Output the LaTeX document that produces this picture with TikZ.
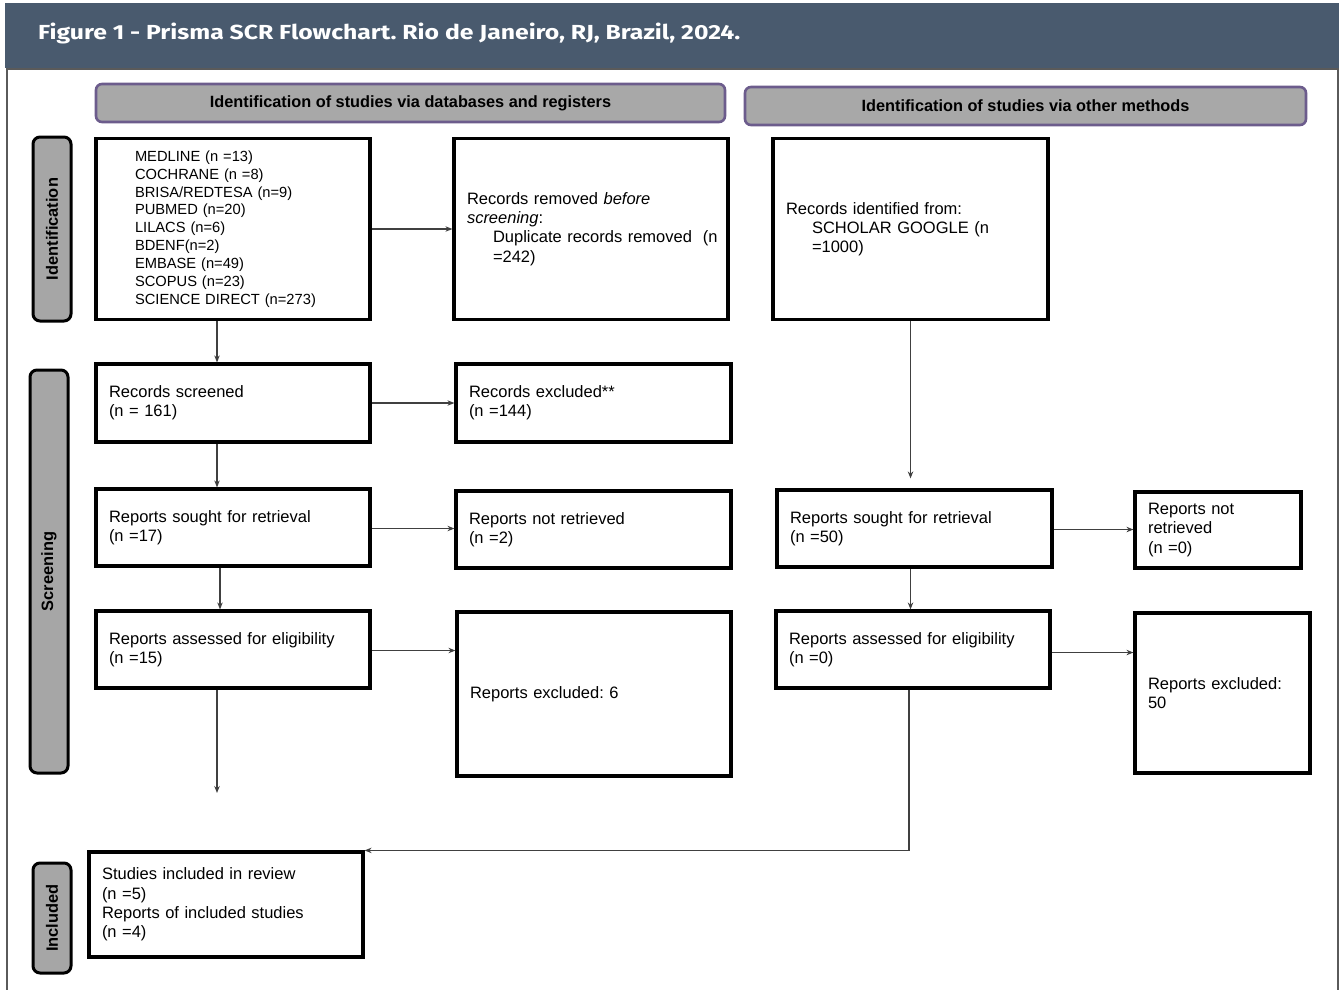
\documentclass[tikz,border=0pt]{standalone}
\usepackage{graphicx}
\usepackage{fontspec}
\setmainfont{Liberation Sans}
\newfontfamily\titlefont{Fira Sans}
\usepackage{tikz}
\usetikzlibrary{positioning}
\usetikzlibrary{arrows.meta}
\definecolor{headblue}{RGB}{73,90,110}
\definecolor{phasegray}{RGB}{168,168,168}
\definecolor{phaseline}{RGB}{108,92,140}
\definecolor{stagegray}{RGB}{166,166,166}
\definecolor{framegray}{RGB}{90,90,90}
\frenchspacing
\hyphenpenalty=10000
\exhyphenpenalty=10000

\begin{document}
\begin{tikzpicture}[
        x = 1pt, y = -1pt,
        box/.style = {
            draw,
            line width = 3.2pt,
            inner xsep = 13pt,
            inner ysep = 0pt,
            align = left,
            font = \fontsize{16.5}{19.2}\selectfont
        },
        phase/.style = {
            draw = phaseline,
            fill = phasegray,
            line width = 2.6pt,
            rounded corners = 6pt,
            minimum height = 38pt,
            font = \fontsize{16.3}{19}\selectfont\bfseries
        },
        stage/.style = {
            draw,
            fill = stagegray,
            line width = 3pt,
            rounded corners = 7pt,
            rotate = 90,
            minimum height = 38pt,
            font = \fontsize{16.4}{19}\selectfont\bfseries
        },
        link/.style = {
            line width = 1.1pt,
            draw = black!75,
            -{Stealth[length=7pt, width=5.5pt]}
        }
    ]
    \useasboundingbox (0, 0) rectangle (1339, 990);

    % frame and title bar
    \draw[framegray, line width = 1.4pt] (7, 995) -- (7, 69) -- (1338, 69) -- (1338, 995);
    \fill[headblue] (5, 3) rectangle (1339, 68);
    \node[anchor = base west, inner sep = 0pt, text = white] (title) at (38, 40)
        {\resizebox{702pt}{16.5pt}{\titlefont\bfseries Figure 1 - Prisma SCR Flowchart. Rio de Janeiro, RJ, Brazil, 2024.}};

    % headers
    \node[phase, minimum width = 629pt] (dbs) at (410.5, 103) {Identification of studies via databases and registers};
    \node[phase, minimum width = 561pt] (other) at (1025.5, 106) {Identification of studies via other methods};
    \node[stage, minimum width = 184pt] (ident) at (52, 229) {Identification};
    \node[stage, minimum width = 403pt] (screen) at (49, 571.5) {Screening};
    \node[stage, minimum width = 110pt] (incl) at (52, 918) {Included};

    % boxes
    \node[box, inner xsep = 39pt, text width = 196pt, minimum height = 181pt, font = \fontsize{14.7}{17.9}\selectfont] (1) at (233, 229)
        {MEDLINE (n =13)\\ COCHRANE (n =8)\\ BRISA/REDTESA (n=9)\\ PUBMED (n=20)\\ LILACS (n=6)\\ BDENF(n=2)\\ EMBASE (n=49)\\ SCOPUS (n=23)\\ SCIENCE~DIRECT~(n=273)};
    \node[box, text width = 248pt, minimum height = 181pt] (2) at (591, 229)
        {Records removed \textit{before}\\ \textit{screening}:\\ \hspace*{26pt}Duplicate~records~removed~~(n\\ \hspace*{26pt}=242)};
    \node[box, text width = 249pt, minimum height = 181pt] (3) at (910.5, 229)
        {Records identified from:\\ \hspace*{26pt}SCHOLAR~GOOGLE~(n\\ \hspace*{26pt}=1000)};
    \node[box, text width = 248pt, minimum height = 78pt] (4) at (233, 403) {Records screened\\ (n = 161)};
    \node[box, text width = 249pt, minimum height = 78pt] (5) at (593.5, 403) {Records excluded**\\ (n =144)};
    \node[box, text width = 248pt, minimum height = 77pt] (6) at (233, 527.5) {Reports sought for retrieval\\ (n =17)};
    \node[box, text width = 249pt, minimum height = 77pt] (7) at (593.5, 529.5) {Reports not retrieved\\ (n =2)};
    \node[box, text width = 249pt, minimum height = 77pt] (8) at (914.5, 528.5) {Reports sought for retrieval\\ (n =50)};
    \node[box, text width = 140pt, minimum height = 76pt] (9) at (1218, 530) {Reports not\\ retrieved\\ (n =0)};
    \node[box, text width = 248pt, minimum height = 77pt] (10) at (233, 649.5) {Reports assessed for eligibility\\ (n =15)};
    \node[box, text width = 248pt, minimum height = 164pt] (11) at (594, 694) {Reports excluded: 6};
    \node[box, text width = 248pt, minimum height = 77pt] (12) at (913, 649.5) {Reports assessed for eligibility\\ (n =0)};
    \node[box, text width = 149pt, minimum height = 160pt] (13) at (1222.5, 693) {Reports excluded:\\ 50};
    \node[box, text width = 248pt, minimum height = 105pt] (14) at (226, 904.5)
        {Studies included in review\\ (n =5)\\ Reports of included studies\\ (n =4)};
    \coordinate (end) at (217, 793);

    % connectors
    \draw[link] (1) -- (2);
    \draw[link] ([xshift=-16pt]1.south) -- ([xshift=-16pt]1.south |- 4.north);
    \draw[link] (4) -- (5);
    \draw[link] ([xshift=-16pt]4.south) -- ([xshift=-16pt]4.south |- 6.north);
    \draw[link] ([yshift=-1pt]6.east) -- ([yshift=-1pt]6.east -| 7.west);
    \draw[link] ([xshift=-13pt]6.south) -- ([xshift=-13pt]6.south |- 10.north);
    \draw[link] ([yshift=-1pt]10.east) -- ([yshift=-1pt]10.east -| 11.west);
    \draw[link] ([xshift=-16pt]10.south) -- (end);
    \draw[link, shorten >= 10pt] (3.south) -- (3.south |- 8.north);
    \draw[link] ([yshift=-1pt]8.east) -- ([yshift=-1pt]8.east -| 9.west);
    \draw[link] ([xshift=-4pt]8.south) -- ([xshift=-4pt]8.south |- 12.north);
    \draw[link] ([yshift=-3pt]12.east) -- ([yshift=-3pt]12.east -| 13.west);
    \draw[link] ([xshift=-4pt]12.south) |- (14.north east);
\end{tikzpicture}
\end{document}
